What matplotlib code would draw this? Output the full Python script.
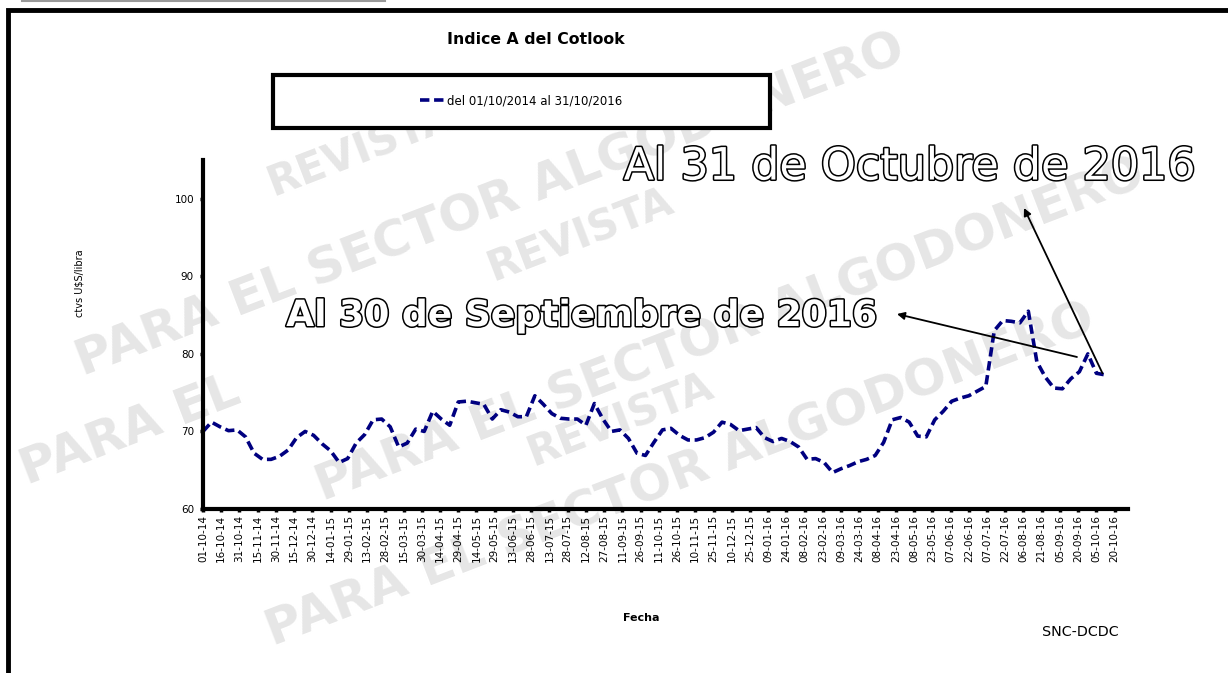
import pandas as pd
import matplotlib
matplotlib.use("Agg")
import matplotlib.pyplot as plt
import matplotlib.dates as mdates
import matplotlib.patheffects as pe
from matplotlib.patches import Rectangle
from matplotlib.lines import Line2D

# Indice A del Cotlook (ctvs U$S/libra), one reading per week from 01/10/2014
start_date = "2014-10-01"
cotlook_a = [
    70.0, 71.2, 70.6, 70.1, 70.2, 69.3, 67.2, 66.4, 66.4, 66.8,
    67.6, 69.2, 70.0, 69.5, 68.4, 67.5, 66.0, 66.5, 68.5, 69.6,
    71.5, 71.6, 70.6, 68.0, 68.5, 70.3, 70.0, 72.6, 71.6, 70.8,
    73.8, 73.9, 73.7, 73.5, 71.6, 72.8, 72.5, 71.9, 71.9, 74.6,
    73.5, 72.3, 71.7, 71.6, 71.6, 70.8, 73.6, 71.6, 70.0, 70.2,
    69.1, 67.2, 66.9, 68.6, 70.2, 70.4, 69.5, 68.9, 68.9, 69.2,
    69.9, 71.2, 70.9, 70.1, 70.3, 70.5, 69.2, 68.7, 69.1, 68.7,
    68.0, 66.4, 66.5, 66.0, 64.7, 65.2, 65.6, 66.1, 66.4, 66.9,
    68.6, 71.5, 71.8, 71.2, 69.4, 69.3, 71.5, 72.6, 73.9, 74.3,
    74.6, 75.2, 75.8, 83.0, 84.3, 84.2, 84.0, 85.5, 79.0, 77.0,
    75.6, 75.5, 76.8, 77.7, 80.0, 77.5, 77.3,
]
dates = pd.date_range(start_date, periods=len(cotlook_a), freq="7D")

# x axis: a label every 15 days, axis ends 31/10/2016
tick_dates = pd.date_range("2014-10-01", "2016-10-20", freq="15D")
x_end = "2016-10-31"
y_ticks = [60, 70, 80, 90, 100]

# points the two notes point away from
note_texts = ["Al 30 de Septiembre de 2016", "Al 31 de Octubre de 2016"]
note_dates = ["2016-09-19", "2016-10-10"]
note_vals = [79.6, 77.5]

watermarks = [
    ("REVISTA", 360, 150, 30),
    ("PARA EL SECTOR ALGODONERO", 490, 205, 36),
    ("REVISTA", 580, 235, 30),
    ("PARA EL SECTOR ALGODONERO", 730, 330, 36),
    ("REVISTA", 620, 420, 30),
    ("PARA EL SECTOR ALGODONERO", 680, 475, 36),
    ("PARA EL", 130, 430, 36),
]

W, H = 1228, 673
fig = plt.figure(figsize=(W / 100, H / 100), dpi=100)
fig.patch.set_facecolor("white")


def fx(px):
    return px / W


def fy(py):
    return 1 - py / H


for txt, cx, cy, size in watermarks:
    fig.text(fx(cx), fy(cy), txt, ha="center", va="center", rotation=21,
             fontsize=size, fontweight="bold", color="#e6e6e6", zorder=-1)

ax = fig.add_axes([fx(203), fy(509), fx(1128) - fx(203), fy(160) - fy(509)])
ax.set_facecolor("none")

line, = ax.plot(dates, cotlook_a, color="#000080", lw=2.6,
                linestyle=(0, (2.6, 1.3)), solid_capstyle="butt")

ax.set_xlim(pd.Timestamp(start_date), pd.Timestamp(x_end))
ax.set_ylim(60, 105)
ax.set_yticks(y_ticks)
ax.set_xticks(tick_dates)
ax.xaxis.set_major_formatter(mdates.DateFormatter("%d-%m-%y"))
ax.tick_params(axis="x", labelrotation=90, labelsize=7.5, length=2.5, width=2.5, pad=2)
ax.tick_params(axis="y", labelsize=7.5, length=2.5, width=2.5, pad=4)
for s in ["top", "right"]:
    ax.spines[s].set_visible(False)
for s in ["left", "bottom"]:
    ax.spines[s].set_linewidth(3)

# outer frame and stray line at the top
fig.add_artist(Rectangle((fx(8), -0.05), 1.1, fy(10) + 0.05, transform=fig.transFigure,
                         fill=False, ec="black", lw=3.5, clip_on=False))
fig.add_artist(Line2D([fx(22), fx(385)], [0.998, 0.998], transform=fig.transFigure,
                      color="#999999", lw=1.5))

fig.text(fx(536), fy(40), "Indice A del Cotlook", ha="center", va="center",
         fontsize=11.3, fontweight="bold")

# legend box
fig.add_artist(Rectangle((fx(273), fy(128)), fx(770) - fx(273), fy(75) - fy(128),
                         transform=fig.transFigure, fc="white", ec="black", lw=3, zorder=2))
fig.legend([line], ["del 01/10/2014 al 31/10/2016"], loc="center",
           bbox_to_anchor=(fx(521), fy(101)), frameon=False, fontsize=8.5,
           handlelength=2.2, handletextpad=0.1)

fig.text(fx(80), fy(283), r"ctvs U\$S/libra", rotation=90, ha="center", va="center", fontsize=7)
fig.text(fx(641), fy(618), "Fecha", ha="center", va="center", fontsize=8, fontweight="bold")
fig.text(fx(1080), fy(632), "SNC-DCDC", ha="center", va="center", fontsize=10.3)

# outlined notes with arrows
outline = [pe.withStroke(linewidth=2.2, foreground="black")]
fig.text(fx(582), fy(316), note_texts[0], ha="center", va="center", fontsize=26,
         fontweight="bold", color="white", path_effects=outline, zorder=6)
fig.text(fx(910), fy(167), note_texts[1], ha="center", va="center", fontsize=32,
         color="white", path_effects=outline, zorder=6)

heads = [(fx(897), fy(314)), (fx(1024), fy(208))]
for d, v, head in zip(note_dates, note_vals, heads):
    ax.annotate("", xy=head, xycoords="figure fraction",
                xytext=(mdates.date2num(pd.Timestamp(d)), v), textcoords="data",
                arrowprops=dict(arrowstyle="-|>", color="black", lw=1.3,
                                mutation_scale=11, shrinkA=0, shrinkB=0),
                annotation_clip=False)

fig.savefig("out.png", dpi=100)
